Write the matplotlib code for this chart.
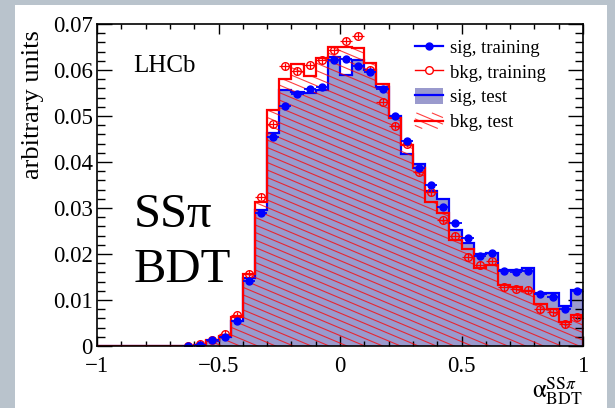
import numpy as np
import matplotlib
matplotlib.use("Agg")
import matplotlib.pyplot as plt
from matplotlib.patches import Rectangle, Patch
from matplotlib.lines import Line2D
from matplotlib.collections import LineCollection
from matplotlib.legend_handler import HandlerBase
from matplotlib.ticker import MultipleLocator

plt.rcParams['font.family'] = ['Liberation Serif', 'DejaVu Serif']
plt.rcParams['mathtext.fontset'] = 'stix'

# 40 bins from -1 to 1
edges = np.linspace(-1, 1, 41)

sig_test = [0, 0, 0, 0, 0, 0, 0, 0.0, 0.0002, 0.0010, 0.0020, 0.0055, 0.0148, 0.0295,
            0.0464, 0.0557, 0.0553, 0.0550, 0.0557, 0.0628, 0.0590, 0.0622, 0.0599,
            0.0563, 0.0499, 0.0418, 0.0396, 0.0336, 0.0319, 0.0252, 0.0223, 0.0200,
            0.0203, 0.0165, 0.0165, 0.0170, 0.0116, 0.0116, 0.0087, 0.0122]
bkg_test = [0, 0, 0, 0, 0, 0, 0, 0.0, 0.0003, 0.0012, 0.0022, 0.0062, 0.0156, 0.0312,
            0.0514, 0.0581, 0.0613, 0.0586, 0.0626, 0.0651, 0.0650, 0.0648, 0.0615,
            0.0570, 0.0495, 0.0436, 0.0387, 0.0314, 0.0289, 0.0231, 0.0210, 0.0169,
            0.0176, 0.0133, 0.0128, 0.0120, 0.0091, 0.0080, 0.0053, 0.0067]

# training points start at bin 7 (-0.65 .. -0.6)
first_bin = 7
sig_train = [0.0, 0.0002, 0.0012, 0.0020, 0.0054, 0.0142, 0.0289, 0.0454, 0.0522,
             0.0548, 0.0559, 0.0563, 0.0621, 0.0625, 0.0608, 0.0595, 0.0559, 0.0500,
             0.0445, 0.0387, 0.0351, 0.0302, 0.0268, 0.0234, 0.0196, 0.0202, 0.0162,
             0.0160, 0.0162, 0.0113, 0.0106, 0.0080, 0.0120]
bkg_train = [0.0, 0.0004, 0.0013, 0.0026, 0.0067, 0.0157, 0.0325, 0.0482, 0.0608,
             0.0598, 0.0610, 0.0622, 0.0643, 0.0664, 0.0675, 0.0601, 0.0531, 0.0479,
             0.0440, 0.0379, 0.0334, 0.0273, 0.0240, 0.0194, 0.0176, 0.0184, 0.0128,
             0.0125, 0.0122, 0.0080, 0.0073, 0.0048, 0.0064]
sig_err = 0.0006
bkg_err = 0.0008

xticks = [-1, -0.5, 0, 0.5, 1]
xticklabels = ['\u22121', '\u22120.5', '0', '0.5', '1']
yticks = [0, 0.01, 0.02, 0.03, 0.04, 0.05, 0.06, 0.07]
yticklabels = ['0', '0.01', '0.02', '0.03', '0.04', '0.05', '0.06', '0.07']

blue = '#0000ff'
red = '#ff0000'
purple = '#9a9acd'
slope = 0.42


class ShallowHatch(HandlerBase):
    # hatched box with shallow lines + a line through the middle
    def create_artists(self, legend, orig_handle, xdescent, ydescent, width, height,
                       fontsize, trans):
        x0, y0 = -xdescent, -ydescent
        segs = []
        for c in np.arange(0.2, 1.0 + slope * width / height, 0.42):
            xa, xb = 0.0, width
            ya, yb = c * height, c * height - slope * width
            if ya > height:
                xa = (ya - height) / slope
                ya = height
            if yb < 0:
                xb = ya / slope + xa
                yb = 0
            if xb > xa:
                segs.append([(x0 + xa, y0 + ya), (x0 + xb, y0 + yb)])
        lc = LineCollection(segs, colors=red, linewidths=0.8, alpha=0.75, transform=trans)
        mid = Line2D([x0, x0 + width], [y0 + height / 2] * 2, color=red, lw=1.6, transform=trans)
        return [lc, mid]


fig = plt.figure(figsize=(6.15, 4.08), dpi=100)
fig.patch.set_facecolor('#b9c3cc')
fig.add_artist(Rectangle((15 / 615, 0), 592 / 615, 403 / 408, transform=fig.transFigure,
                         facecolor='white', edgecolor='none', zorder=-10))

ax = fig.add_axes([97 / 615, 62 / 408, 486 / 615, 322 / 408])
ax.set_facecolor('white')

# signal test: filled
ax.stairs(sig_test, edges, fill=True, facecolor=purple, edgecolor='none', zorder=1)
ax.stairs(sig_test, edges, color=blue, lw=1.6, zorder=2)

# background test: hatched with shallow lines
bkg_shape = ax.stairs(bkg_test, edges, fill=True, facecolor='none', edgecolor='none', zorder=3)
spacing = 7.5 / 322
offsets = np.arange(0, 1 + slope * 486 / 322 + spacing, spacing)
segs = [[(0, c), (1, c - slope * 486 / 322)] for c in offsets]
hatch = LineCollection(segs, colors=red, linewidths=0.8, alpha=0.75,
                       transform=ax.transAxes, zorder=3)
ax.add_collection(hatch)
hatch.set_clip_path(bkg_shape)
ax.stairs(bkg_test, edges, color=red, lw=1.6, zorder=4)

# training points
centers = (edges[:-1] + edges[1:]) / 2
xc = centers[first_bin:]
ax.errorbar(xc, sig_train, xerr=0.025, yerr=sig_err, fmt='o', color=blue, ms=5,
            elinewidth=1.3, capsize=0, zorder=6)
ax.errorbar(xc, bkg_train, xerr=0.025, yerr=bkg_err, fmt='o', color=red, mfc='none',
            mec=red, mew=1.0, ms=5.5, elinewidth=0.9, capsize=0, zorder=5)

ax.set_xlim(-1, 1)
ax.set_ylim(0, 0.07)
ax.set_xticks(xticks)
ax.set_xticklabels(xticklabels)
ax.set_yticks(yticks)
ax.set_yticklabels(yticklabels)
ax.xaxis.set_minor_locator(MultipleLocator(0.1))
ax.yaxis.set_minor_locator(MultipleLocator(0.002))
ax.tick_params(which='both', direction='in', top=True, right=True, width=1, labelsize=16.5)
ax.tick_params(axis='x', which='major', length=7, pad=7.5)
ax.tick_params(axis='x', which='minor', length=3.5)
ax.tick_params(axis='y', which='major', length=11, pad=3)
ax.tick_params(axis='y', which='minor', length=5.5)
for s in ax.spines.values():
    s.set_linewidth(1.2)
    s.set_zorder(10)

ax.text(-0.132, 0.98, 'arbitrary units', rotation=90, ha='center', va='top',
        transform=ax.transAxes, fontsize=19)
ax.text(1.0, -0.162, r'$\mathrm{\alpha}^{\mathrm{SS}\pi}_{\mathrm{BDT}}$', ha='right',
        va='baseline', transform=ax.transAxes, fontsize=18)

ax.text(0.074, 0.851, 'LHCb', transform=ax.transAxes, fontsize=18, va='baseline')
ax.text(0.076, 0.370, 'SS\u03c0', transform=ax.transAxes, fontsize=35, va='baseline')
ax.text(0.076, 0.199, 'BDT', transform=ax.transAxes, fontsize=35, va='baseline')

bkg_test_handle = Patch(facecolor='none', edgecolor=red)
handles = [
    Line2D([], [], color=blue, lw=1.6, marker='o', ms=5),
    Line2D([], [], color=red, lw=1.0, marker='o', ms=5.5, mfc='white', mec=red),
    (Patch(facecolor=purple, edgecolor='none'), Line2D([], [], color=blue, lw=1.6)),
    bkg_test_handle,
]
labels = ['sig, training', 'bkg, training', 'sig, test', 'bkg, test']
ax.legend(handles, labels, loc='upper left', bbox_to_anchor=(0.654, 0.955), frameon=False,
          fontsize=13.5, handlelength=1.5, handletextpad=0.35, labelspacing=0.35,
          handleheight=0.9, borderpad=0, borderaxespad=0,
          handler_map={bkg_test_handle: ShallowHatch()})

fig.savefig('out.png', dpi=100, facecolor=fig.get_facecolor())
